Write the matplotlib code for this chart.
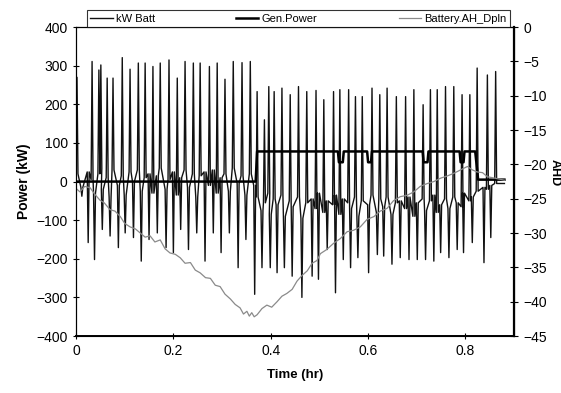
import matplotlib
matplotlib.use('Agg')
from matplotlib import pyplot as plt

plt.rcParams['font.family'] = ['Liberation Sans', 'DejaVu Sans']
plt.rcParams['font.size'] = 10

# battery power spikes (kW): time, peak value,
# and the level of the noisy band around each spike
spike_t = [0.002, 0.012, 0.025, 0.033, 0.038, 0.047, 0.051, 0.054, 0.064, 0.070,
           0.076, 0.087, 0.095, 0.101, 0.111, 0.118, 0.128, 0.134, 0.142, 0.150,
           0.158, 0.167, 0.173, 0.185, 0.191, 0.200, 0.208, 0.215, 0.224, 0.231,
           0.241, 0.248, 0.255, 0.265, 0.274, 0.282, 0.290, 0.298, 0.306, 0.315,
           0.323, 0.333, 0.341, 0.349, 0.358, 0.367,
           0.372, 0.382, 0.387, 0.396, 0.399, 0.407, 0.413, 0.423, 0.428, 0.440,
           0.444, 0.457, 0.464, 0.474, 0.485, 0.493, 0.498, 0.509, 0.516, 0.529,
           0.533, 0.542, 0.549, 0.560, 0.564, 0.574, 0.579, 0.588, 0.601, 0.608,
           0.619, 0.624, 0.632, 0.639, 0.649, 0.658, 0.666, 0.677, 0.684, 0.694,
           0.701, 0.713, 0.718, 0.728, 0.735, 0.742, 0.749, 0.759, 0.766, 0.776,
           0.783, 0.793, 0.796, 0.809, 0.814, 0.824, 0.838, 0.845, 0.852, 0.862]
spike_kw = [270, -38, -158, 311, -202, 289, 302, -124, 268, -141,
            268, -171, 321, -133, 291, -145, 307, -206, 307, -150,
            298, -133, 307, -171, 315, -184, 268, -124, 311, -176,
            307, -133, 307, -206, 298, -133, 307, -184, 265, -133,
            311, -223, 308, -150, 311, -292,
            233, -223, 160, 246, -223, 233, -236, 242, -223, 225,
            -245, 246, -300, 233, -245, 236, -253, 212, -176, 233,
            -288, 238, -202, 238, -223, 220, -197, 220, -236, 242,
            -189, 225, -193, 242, -214, 220, -197, 220, -202, 238,
            -202, 199, -202, 238, -206, 238, -184, 246, -197, 246,
            -176, 225, -184, 225, -158, 294, -210, 276, -145, 285]
spike_base = [20, -15, 25, 5, -30, 20, 35, -20, 10, -40,
              30, -10, 15, -35, 25, 0, 30, -25, 10, 20,
              -30, 15, 35, -20, 5, 25, -35, 10, 30, -15,
              20, -40, 15, 25, -10, 30, -30, 10, 20, -25,
              35, -5, 15, -35, 20, -10,
              -40, -75, -55, -30, -85, -45, -60, -35, -90, -50,
              -65, -40, -95, -55, -45, -70, -30, -80, -50, -60,
              -35, -85, -45, -55, -70, -40, -90, -50, -60, -35,
              -80, -45, -65, -40, -85, -55, -50, -70, -40, -90,
              -55, -45, -75, -50, -35, -80, -60, -45, -70, -40,
              -55, -65, -30, -50, -40, -25, -15, -20, -10, -5]

# generator power (kW)
gen_t = [0.000, 0.369, 0.372, 0.538, 0.540, 0.548, 0.550, 0.598, 0.600, 0.606,
         0.608, 0.712, 0.714, 0.722, 0.724, 0.788, 0.790, 0.796, 0.798, 0.820,
         0.826, 0.880]
gen_kw = [0, 0, 78, 78, 50, 50, 78, 78, 50, 50,
          78, 78, 50, 50, 78, 78, 50, 50, 78, 78,
          5, 5]

# battery amp-hour depletion (right axis)
ah_t = [0.000, 0.008, 0.018, 0.029, 0.038, 0.049, 0.058, 0.070, 0.080, 0.091,
        0.100, 0.111, 0.122, 0.132, 0.142, 0.152, 0.162, 0.173, 0.183, 0.193,
        0.204, 0.214, 0.224, 0.235, 0.245, 0.255, 0.266, 0.276, 0.286, 0.296,
        0.306, 0.317, 0.327, 0.337, 0.344, 0.351, 0.356, 0.361, 0.366, 0.372,
        0.382, 0.392, 0.402, 0.413, 0.423, 0.433, 0.444, 0.454, 0.464, 0.475,
        0.485, 0.495, 0.502, 0.515, 0.529, 0.543, 0.557, 0.570, 0.584, 0.598,
        0.612, 0.625, 0.639, 0.652, 0.666, 0.680, 0.694, 0.707, 0.721, 0.735,
        0.749, 0.762, 0.776, 0.790, 0.804, 0.814, 0.824, 0.835, 0.845, 0.860,
        0.880]
ah_val = [-23.5, -24.0, -23.2, -23.4, -24.3, -25.2, -25.6, -26.6, -26.8, -27.6,
          -28.6, -29.1, -29.4, -30.0, -30.6, -30.4, -31.3, -31.0, -32.3, -32.9,
          -33.1, -33.6, -34.4, -34.3, -35.4, -35.8, -36.5, -36.6, -37.6, -37.8,
          -38.9, -39.6, -40.4, -40.9, -41.8, -41.4, -42.1, -41.6, -42.2, -41.9,
          -41.0, -40.5, -40.8, -40.0, -39.2, -38.8, -38.2, -37.0, -36.2, -35.5,
          -34.4, -34.0, -33.0, -32.4, -31.5, -30.8, -29.8, -29.6, -29.1, -28.0,
          -27.6, -26.8, -26.4, -25.3, -24.7, -24.5, -24.0, -23.2, -22.8, -22.5,
          -22.0, -21.7, -21.3, -20.8, -20.3, -20.8, -21.1, -21.2, -21.8, -22.0,
          -22.3]

# each spike rises and falls almost vertically out of the band
w = 0.002
batt_t, batt_kw = [0.0], [20]
for t, v, b in zip(spike_t, spike_kw, spike_base):
    batt_t += [t - w, t, t + w]
    batt_kw += [b, v, b]
batt_t.append(0.880)
batt_kw.append(-5)

fig = plt.figure(figsize=(5.61, 3.93), dpi=100)
ax = fig.add_axes([0.1355, 0.145, 0.781, 0.786])
ax2 = ax.twinx()

l1, = ax.plot(batt_t, batt_kw, color='#111111', lw=1.0, label='kW Batt', zorder=2)
l2, = ax.plot(gen_t, gen_kw, color='black', lw=1.8, label='Gen.Power', zorder=3)
l3, = ax2.plot(ah_t, ah_val, color='#8a8a8a', lw=0.9, label='Battery.AH_Dpln')

ax.set_xlim(0, 0.9)
ax.set_ylim(-400, 400)
ax2.set_ylim(-45, 0)
ax.set_xticks([0, 0.2, 0.4, 0.6, 0.8])
ax.set_xticklabels(['0', '0.2', '0.4', '0.6', '0.8'])
ax.set_yticks(range(-400, 401, 100))
ax2.set_yticks(range(-45, 1, 5))
ax.tick_params(direction='inout', length=5, width=0.8)
ax2.tick_params(direction='inout', length=6, width=0.8)
for s in ax2.spines.values():
    s.set_linewidth(0.8)
ax2.spines['right'].set_linewidth(1.6)
ax2.spines['bottom'].set_linewidth(1.4)

ax.set_ylabel('Power (kW)', fontweight='bold', fontsize=10, labelpad=4)
ax.set_xlabel('Time (hr)', fontweight='bold', fontsize=9.5, labelpad=8)
fig.text(0.978, 0.56, 'AHD', rotation=270, fontweight='bold', fontsize=9,
         ha='left', va='center')

leg = fig.legend(handles=[l1, l2, l3], ncol=3, mode='expand', loc='lower left',
                 bbox_to_anchor=(0.155, 0.931, 0.754, 0.051), fontsize=8,
                 frameon=True, fancybox=False, edgecolor='black',
                 handlelength=2.0, handletextpad=0.3, borderpad=0.3,
                 borderaxespad=0)
leg.get_frame().set_linewidth(0.8)

fig.savefig('out.png', dpi=100)
